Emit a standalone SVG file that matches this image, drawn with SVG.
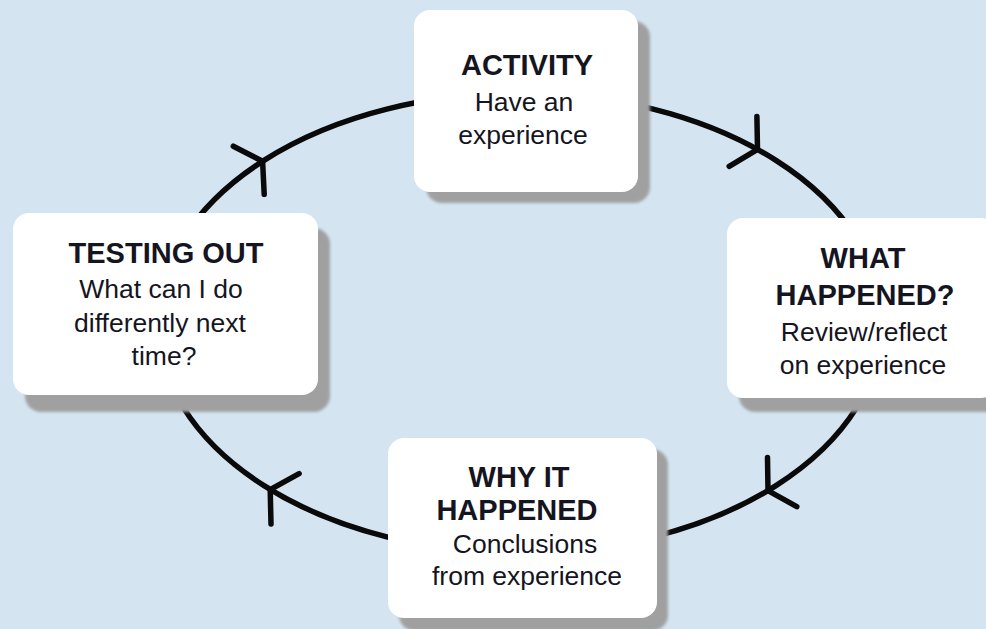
<svg xmlns="http://www.w3.org/2000/svg" width="986" height="629" viewBox="0 0 986 629">
<defs>
<filter id="sh" x="-10%" y="-10%" width="130%" height="130%"><feGaussianBlur stdDeviation="1.5"/></filter>
</defs>
<style>
.bg{fill:#d4e5f1}
.cyc{fill:none;stroke:#0a0a0a;stroke-width:5.5}
.arr{fill:none;stroke:#0a0a0a;stroke-width:5.5;stroke-linecap:round;stroke-linejoin:miter}
.box{fill:#ffffff}
.shd{fill:#a0a0a0;filter:url(#sh)}
.t{font-family:"Liberation Sans",Arial,sans-serif;fill:#15151f;text-anchor:middle}
.b{font-weight:bold;font-size:29px}
.r{font-size:26.5px}
</style>
<rect class="bg" x="0" y="0" width="986" height="629"/>
<g id="connectors">
<ellipse class="cyc" cx="520" cy="323" rx="362" ry="230"/>
<polyline class="arr" points="233.3,146.2 262.6,161.3 264.2,194.3"/>
<polyline class="arr" points="756.9,116.4 757.5,149.4 729.2,166.4"/>
<polyline class="arr" points="767.5,457.6 768,490.6 796.8,506.7"/>
<polyline class="arr" points="271,524 270.2,489.5 299.1,473.6"/>
</g>
<g id="activity">
<rect class="shd" x="426" y="21" width="224" height="182" rx="16"/>
<rect class="box" x="414" y="10" width="224" height="182" rx="16"/>
<text class="t b" x="527" y="75">ACTIVITY</text>
<text class="t r" x="524" y="111">Have an</text>
<text class="t r" x="523" y="144">experience</text>
</g>
<g id="what-happened">
<rect class="shd" x="739" y="230" width="270" height="182" rx="16"/>
<rect class="box" x="727" y="218" width="270" height="180" rx="16"/>
<text class="t b" x="863" y="268">WHAT</text>
<text class="t b" x="865" y="305">HAPPENED?</text>
<text class="t r" x="864" y="341">Review/reflect</text>
<text class="t r" x="863" y="374">on experience</text>
</g>
<g id="why-it-happened">
<rect class="shd" x="399" y="449" width="269" height="182" rx="16"/>
<rect class="box" x="388" y="438" width="269" height="180" rx="16"/>
<text class="t b" x="519" y="487">WHY IT</text>
<text class="t b" x="517" y="520">HAPPENED</text>
<text class="t r" x="525" y="553">Conclusions</text>
<text class="t r" x="527" y="585">from experience</text>
</g>
<g id="testing-out">
<rect class="shd" x="25" y="228" width="305" height="184" rx="16"/>
<rect class="box" x="13" y="213" width="305" height="182" rx="16"/>
<text class="t b" x="166" y="263">TESTING OUT</text>
<text class="t r" x="161" y="298">What can I do</text>
<text class="t r" x="160" y="332">differently next</text>
<text class="t r" x="164" y="365">time?</text>
</g>
</svg>
